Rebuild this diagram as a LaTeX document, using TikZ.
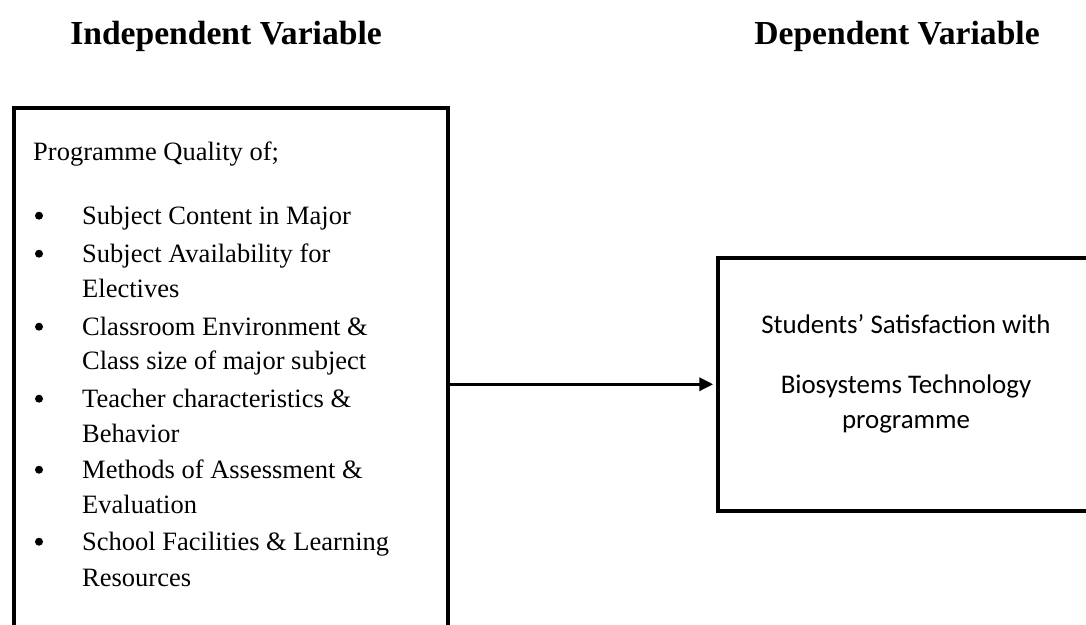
\documentclass[tikz,border=0pt]{standalone}
\usepackage{fontspec}
\setmainfont{Liberation Serif}
\newfontfamily\calibri{Carlito}
\usetikzlibrary{arrows.meta}
\tikzset{
  box/.style={draw, line width=4.5pt, inner sep=0pt, anchor=north west},
  body/.style={font=\fontsize{26.5}{30}\selectfont, anchor=base west, inner sep=0pt},
  rtext/.style={font=\calibri\fontsize{26.9}{30}\selectfont, anchor=base, inner sep=0pt},
  dot/.style={circle, fill, inner sep=0pt, minimum size=8pt},
  title/.style={font=\bfseries\fontsize{33.6}{38}\selectfont, anchor=base, inner sep=0pt},
  link/.style={line width=3.3pt, -{Triangle[length=14pt,width=13pt]}, shorten >=2.25pt}
}
\begin{document}
\begin{tikzpicture}[x=1pt,y=-1pt]
\useasboundingbox (0,0) rectangle (1086,624);
\clip (0,0) rectangle (1086,624);
% titles
\node[title] (ivt) at (226,44) {Independent Variable};
\node[title] (dvt) at (897,44) {Dependent Variable};
% boxes
\node[box, minimum width=434pt, minimum height=553pt] (indep) at (11.5,105.5) {};
\node[box, minimum width=381.5pt, minimum height=253pt] (dep) at (715.5,255.5) {};
% arrow
\draw[link] (indep.east) -- (dep.west);
% left text
\node[body] (pq) at (33,160.7) {Programme Quality of;};
\node[dot] (b1) at (39,215.7) {};
\node[body] (t1) at (82,224) {Subject Content in Major};
\node[dot] (b2) at (39,253.7) {};
\node[body] (t2a) at (82,262) {Subject Availability for};
\node[body] (t2b) at (82,297) {Electives};
\node[dot] (b3) at (39,326.7) {};
\node[body] (t3a) at (82,335) {Classroom Environment \&};
\node[body] (t3b) at (82,369) {Class size of major subject};
\node[dot] (b4) at (39,398.7) {};
\node[body] (t4a) at (82,407) {Teacher characteristics \&};
\node[body] (t4b) at (82,442) {Behavior};
\node[dot] (b5) at (39,469.7) {};
\node[body] (t5a) at (82,478) {Methods of Assessment \&};
\node[body] (t5b) at (82,513) {Evaluation};
\node[dot] (b6) at (39,541.7) {};
\node[body] (t6a) at (82,550) {School Facilities \& Learning};
\node[body] (t6b) at (82,586) {Resources};
% right text
\node[rtext] (r1) at (906,333) {Students’ Satisfaction with};
\node[rtext] (r2) at (906,393) {Biosystems Technology};
\node[rtext] (r3) at (906,428) {programme};
\end{tikzpicture}
\end{document}
